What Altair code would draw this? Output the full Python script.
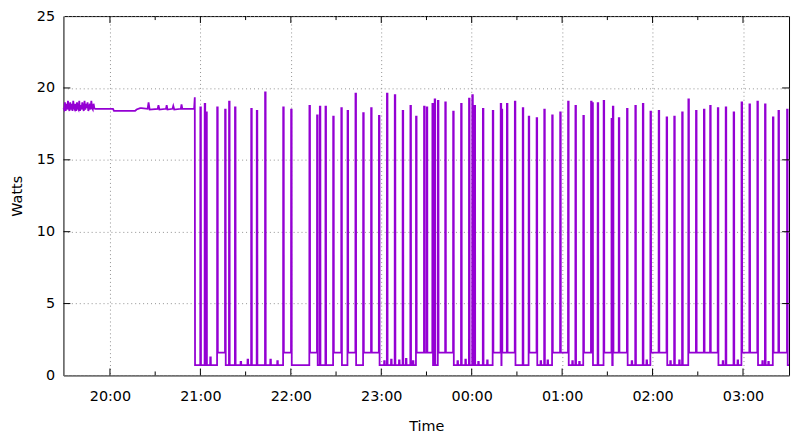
import altair as alt
import pandas as pd

# ---------------- data ----------------
DAY_EVENING = "2021-03-01"
DAY_MORNING = "2021-03-02"

x_start = "19:29:08"
x_end = "03:30:32"

hour_ticks = ["20:00", "21:00", "22:00", "23:00", "00:00", "01:00", "02:00", "03:00"]
half_ticks = ["20:30", "21:30", "22:30", "23:30", "00:30", "01:30", "02:30"]
watt_ticks = [0, 5, 10, 15, 20, 25]
inner_watt_ticks = [5, 10, 15, 20]

# noisy start of the plateau, one reading every 30 s from x_start
noise_step_s = 30
noise_vals = [18.6, 18.5, 19.0, 18.4, 18.9, 18.5, 19.1, 18.6, 18.4, 19.0, 18.5, 18.9,
              18.4, 19.1, 18.6, 18.5, 18.9, 18.4, 19.0, 18.6, 18.5, 19.1, 18.4, 18.8,
              18.5, 19.0, 18.6, 18.4, 19.1, 18.5, 18.9, 18.6, 19.0, 18.4, 18.6, 18.9,
              18.5, 19.1, 18.6, 18.5, 18.9, 18.6, 18.55, 18.55]

# rest of the plateau, then the drop to standby
plateau_times = ["19:51:10", "20:02:00", "20:02:40", "20:16:40", "20:17:40", "20:20:00",
                 "20:21:00", "20:25:00", "20:25:37", "20:26:20", "20:31:40", "20:32:11",
                 "20:32:50", "20:37:10", "20:37:38", "20:38:10", "20:41:30", "20:42:01",
                 "20:42:40", "20:47:00", "20:47:29", "20:48:00", "20:55:50", "20:56:17",
                 "20:56:27"]
plateau_vals = [18.55, 18.55, 18.4, 18.4, 18.5, 18.6,
                18.6, 18.55, 19.0, 18.5, 18.55, 18.8,
                18.5, 18.55, 18.8, 18.5, 18.55, 18.75,
                18.5, 18.55, 18.85, 18.55, 18.55, 19.35,
                0.72]

low_level = 0.72
high_level = 1.58

spike_times = ["20:59:58", "21:02:51", "21:03:54", "21:11:08", "21:16:23", "21:19:01",
               "21:22:57", "21:33:43", "21:37:24", "21:42:55", "21:54:56", "22:00:11",
               "22:12:20", "22:17:24", "22:19:14", "22:22:59", "22:28:06", "22:33:29",
               "22:37:38", "22:42:53", "22:48:00", "22:53:16", "22:58:27", "23:03:46",
               "23:08:57", "23:14:12", "23:19:20", "23:23:04", "23:28:23", "23:30:10",
               "23:33:55", "23:35:25", "23:37:35", "23:42:27", "23:47:42", "23:52:58",
               "23:58:13", "00:00:23", "00:01:53", "00:07:25", "00:13:58", "00:19:14",
               "00:19:53", "00:23:22", "00:28:37", "00:33:52", "00:37:49", "00:43:04",
               "00:48:08", "00:53:23", "00:58:42", "01:03:57", "01:08:49", "01:14:04",
               "01:19:11", "01:20:02", "01:23:35", "01:27:32", "01:32:47", "01:33:38",
               "01:37:35", "01:43:02", "01:48:33", "01:53:32", "01:58:36", "02:04:03",
               "02:09:18", "02:14:22", "02:19:37", "02:23:45", "02:28:49", "02:34:04",
               "02:38:12", "02:43:16", "02:48:31", "02:53:46", "02:59:01", "03:04:16",
               "03:09:32", "03:14:35", "03:19:50", "03:23:31", "03:29:14"]
spike_peaks = [18.65, 18.9, 18.3, 18.65, 18.5, 19.05,
               18.65, 18.55, 18.4, 19.7, 18.65, 18.5,
               18.75, 18.1, 18.7, 18.7, 18.0, 18.6,
               18.4, 19.6, 18.25, 18.6, 18.05, 19.6,
               19.5, 18.4, 18.75, 18.0, 18.7, 18.65,
               18.9, 19.2, 19.1, 19.0, 18.35, 18.9,
               19.25, 19.5, 18.75, 18.55, 18.4, 18.9,
               18.5, 18.9, 19.05, 18.6, 18.0, 17.9,
               18.5, 18.1, 18.3, 19.05, 18.75, 18.05,
               19.05, 18.95, 18.95, 19.1, 17.85, 18.7,
               17.9, 18.55, 18.75, 18.9, 18.35, 18.4,
               17.95, 18.0, 18.3, 19.2, 18.4, 18.5,
               18.75, 18.6, 18.65, 18.3, 19.0, 18.85,
               19.05, 18.85, 17.95, 18.4, 18.5]

# periods where the standby level is raised
high_start = ["21:11:08", "21:54:56", "22:12:20", "22:28:06", "22:37:38", "22:48:00",
              "23:23:04", "23:37:35", "00:13:58", "00:19:53", "00:37:49", "00:53:23",
              "01:14:04", "01:27:32", "01:33:38", "01:58:36", "02:23:45", "02:59:01",
              "03:19:50"]
high_end = ["21:16:23", "22:00:11", "22:17:24", "22:33:29", "22:42:53", "22:58:27",
            "23:33:55", "23:47:42", "00:19:14", "00:28:37", "00:43:04", "01:03:57",
            "01:20:02", "01:32:47", "01:43:02", "02:09:18", "02:43:16", "03:09:32",
            "03:29:14"]

# small blips on the standby level
blip_times = ["21:06:32", "21:26:41", "21:31:17", "21:46:24", "21:51:00", "23:01:55",
              "23:06:31", "23:11:47", "23:16:22", "23:20:58", "23:50:32", "23:55:47",
              "00:04:19", "00:10:14", "00:45:42", "00:50:17", "01:06:43", "01:11:18",
              "01:46:07", "01:55:58", "02:11:44", "02:17:38", "02:46:32", "02:56:23",
              "03:12:49", "03:16:46"]
blip_peaks = [1.25, 0.95, 1.1, 1.1, 1.0, 1.0,
              1.1, 1.05, 1.15, 1.0, 1.0, 1.1,
              0.95, 1.05, 1.0, 1.05, 1.0, 0.95,
              1.0, 1.05, 1.0, 1.05, 1.0, 1.05,
              1.0, 0.95]


# ---------------- build the table ----------------
def stamp(hms):
    if len(hms) == 5:
        hms += ":00"
    day = DAY_EVENING if int(hms[:2]) >= 12 else DAY_MORNING
    return pd.Timestamp(f"{day} {hms}")


def dt(hms):
    t = stamp(hms)
    return alt.DateTime(year=t.year, month=t.month, date=t.day,
                        hours=t.hour, minutes=t.minute, seconds=t.second)


sec = pd.Timedelta(seconds=1)
highs = [(stamp(a), stamp(b)) for a, b in zip(high_start, high_end)]


def base(t):
    return high_level if any(a <= t < b for a, b in highs) else low_level


rows = []
t0 = stamp(x_start)
for i, v in enumerate(noise_vals):
    rows.append((t0 + i * noise_step_s * sec, v))
for t, v in zip(plateau_times, plateau_vals):
    rows.append((stamp(t), v))

events = sorted([(stamp(t), p) for t, p in zip(spike_times, spike_peaks)] +
                [(stamp(t), p) for t, p in zip(blip_times, blip_peaks)])
for t, p in events:
    rows.append((t - 4 * sec, base(t - 4 * sec)))
    rows.append((t, p))
    rows.append((t + 22 * sec, p))
    rows.append((t + 26 * sec, base(t + 26 * sec)))
rows.append((stamp(x_end), base(stamp(x_end))))

df = pd.DataFrame(rows, columns=["time", "watts"])

hour_df = pd.DataFrame({"time": [stamp(h) for h in hour_ticks]})
half_df = pd.DataFrame({"time": [stamp(h) for h in half_ticks]})
ytick_df = pd.DataFrame({"watts": inner_watt_ticks})

# ---------------- chart ----------------
W, H = 733, 363
FONT = "DejaVu Sans"
FS = 14.5

x_scale = alt.Scale(domain=[dt(x_start), dt(x_end)])
y_scale = alt.Scale(domain=[0, 25], nice=False, zero=False)

x_axis = alt.Axis(values=[dt(h) for h in hour_ticks], format="%H:%M",
                  grid=True, gridDash=[1, 3], gridColor="#909090", gridWidth=1,
                  ticks=False, domain=False, labelFlush=False, labelOverlap=False,
                  labelFont=FONT, labelFontSize=FS, labelColor="black",
                  labelPadding=14,
                  title="Time", titleFont=FONT, titleFontSize=FS,
                  titleFontWeight="normal", titleColor="black",
                  titleY=56, titleBaseline="alphabetic")
y_axis = alt.Axis(values=watt_ticks, grid=True, gridDash=[1, 3],
                  gridColor="#909090", gridWidth=1,
                  ticks=False, domain=False, labelFlush=False,
                  labelFont=FONT, labelFontSize=FS, labelColor="black",
                  labelPadding=9,
                  title="Watts", titleFont=FONT, titleFontSize=FS,
                  titleFontWeight="normal", titleColor="black",
                  titleAngle=270, titleAlign="center", titleBaseline="middle",
                  titleX=-46, titleY=H / 2)

x_enc = alt.X("time:T", scale=x_scale, axis=x_axis, title="Time")
y_enc = alt.Y("watts:Q", scale=y_scale, axis=y_axis, title="Watts")

line = alt.Chart(df).mark_line(color="#9400d3", strokeWidth=1.8, interpolate="linear").encode(
    x=x_enc, y=y_enc)


def xrule(data, y1, y2):
    return alt.Chart(data).mark_rule(color="black", strokeWidth=1).encode(
        x=x_enc, y=alt.value(y1), y2=alt.value(y2))


def yrule(x1, x2):
    return alt.Chart(ytick_df).mark_rule(color="black", strokeWidth=1).encode(
        y=y_enc, x=alt.value(x1), x2=alt.value(x2))


chart = alt.layer(
    line,
    xrule(hour_df, H, H - 7), xrule(hour_df, 0, 7),
    xrule(half_df, H, H - 4), xrule(half_df, 0, 4),
    yrule(0, 7), yrule(W - 7, W),
).properties(
    width=W, height=H,
    autosize=alt.AutoSizeParams(type="none"),
    padding={"left": 56, "top": 6, "right": 3, "bottom": 58},
    background="white",
).configure_view(stroke="black", strokeWidth=1)

chart.save("out.html", embed_options={"renderer": "svg", "actions": False})
